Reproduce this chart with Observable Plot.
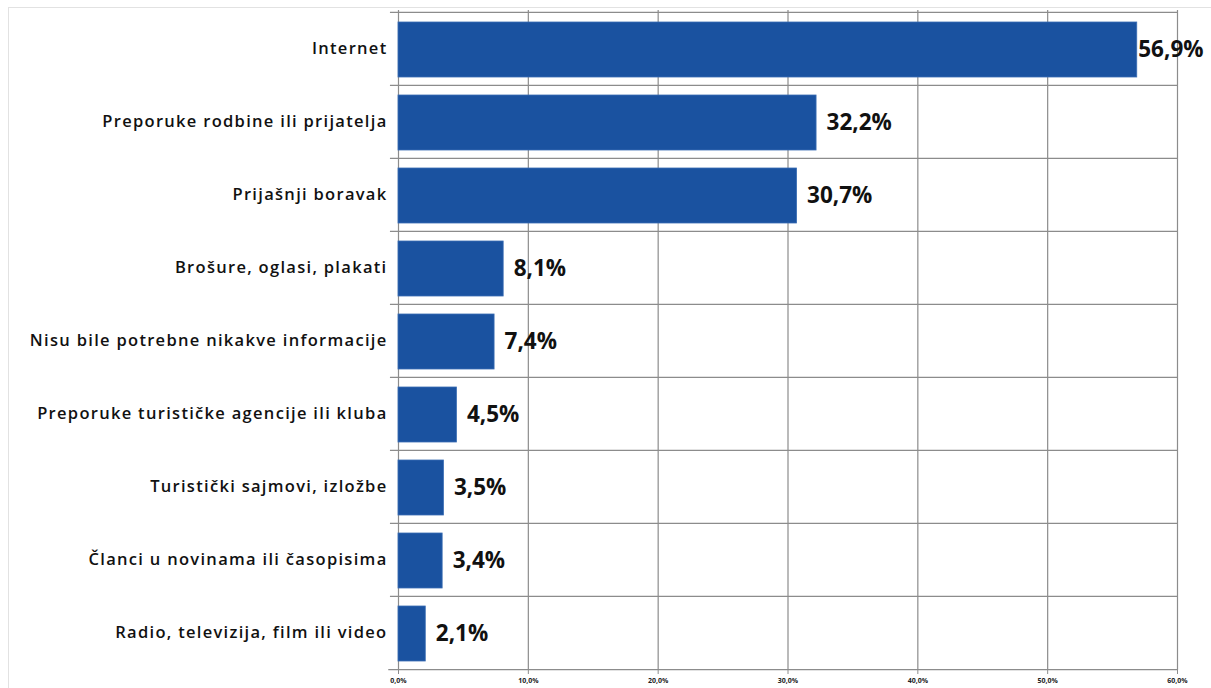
<!DOCTYPE html>
<html><head><meta charset="utf-8">
<script src="https://cdn.jsdelivr.net/npm/d3@7"></script>
<script src="https://cdn.jsdelivr.net/npm/@observablehq/plot@0.6"></script>
<style>
body{margin:0;background:#fff;font-family:"Open Sans",sans-serif;}
#wrap{position:relative;width:1211px;height:688px;overflow:hidden;}
#border{position:absolute;left:8px;top:7px;width:1220px;height:700px;border:1px solid #e2e2e2;}
#chart{position:absolute;left:0;top:0;}
#chart g[aria-label="y-axis tick label"] text{letter-spacing:1.3px;}
</style></head>
<body><div id="wrap"><div id="border"></div><div id="chart"></div></div>
<script>
const categories = [
  "Internet",
  "Preporuke rodbine ili prijatelja",
  "Prijašnji boravak",
  "Brošure, oglasi, plakati",
  "Nisu bile potrebne nikakve informacije",
  "Preporuke turističke agencije ili kluba",
  "Turistički sajmovi, izložbe",
  "Članci u novinama ili časopisima",
  "Radio, televizija, film ili video"
];
const values = [56.9, 32.2, 30.7, 8.1, 7.4, 4.5, 3.5, 3.4, 2.1];
const valueLabels = ["56,9%", "32,2%", "30,7%", "8,1%", "7,4%", "4,5%", "3,5%", "3,4%", "2,1%"];
const xTicks = [0, 10, 20, 30, 40, 50, 60];
const xTickLabels = ["0,0%", "10,0%", "20,0%", "30,0%", "40,0%", "50,0%", "60,0%"];

const data = categories.map((c, i) => ({cat: c, value: values[i], label: valueLabels[i]}));

const W = 1211, H = 688, mt = 10, mb = 18, ml = 398, mr = 34;
const bw = (H - mt - mb) / categories.length;
const fmt = d => xTickLabels[xTicks.indexOf(d)];

const chart = Plot.plot({
  width: W, height: H,
  marginTop: mt, marginBottom: mb, marginLeft: ml, marginRight: mr,
  style: {fontFamily: "Open Sans, sans-serif", background: "transparent"},
  x: {domain: [0, 60], ticks: xTicks, tickFormat: fmt, label: null},
  y: {domain: categories, padding: 0, label: null},
  marks: [
    Plot.ruleX(xTicks, {x: d => d, stroke: "#8c8c8c", strokeWidth: 1.2}),
    Plot.ruleY(categories, {y: d => d, x1: -0.62, x2: 60, dy: -bw / 2, stroke: "#8c8c8c", strokeWidth: 1.2}),
    Plot.ruleY(categories.slice(-1), {y: d => d, x1: -0.75, x2: 60, dy: bw / 2, stroke: "#8c8c8c", strokeWidth: 1.2}),
    Plot.barX(data, {x: "value", y: "cat", fill: "#1a52a0", stroke: "#3a6db3", strokeWidth: 0.8, insetTop: 10, insetBottom: 8}),
    Plot.text(data.filter(d => d.value > 50), {x: "value", y: "cat", text: "label", textAnchor: "start", dx: 1, dy: 1, fontSize: 22.5, fontWeight: 700, fill: "#111"}),
    Plot.text(data.filter(d => d.value <= 50), {x: "value", y: "cat", text: "label", textAnchor: "start", dx: 10, dy: 1, fontSize: 22.5, fontWeight: 700, fill: "#111"}),
    Plot.axisY({tickSize: 0, tickPadding: 11, fontSize: 16.5, fontWeight: 600, fill: "#111", label: null}),
    Plot.axisX({ticks: xTicks, tickSize: 4, tickPadding: 4, tickFormat: fmt, fontSize: 7, fontWeight: 700, fill: "#222", stroke: "#8c8c8c", label: null})
  ]
});
document.getElementById("chart").appendChild(chart);
</script></body></html>
